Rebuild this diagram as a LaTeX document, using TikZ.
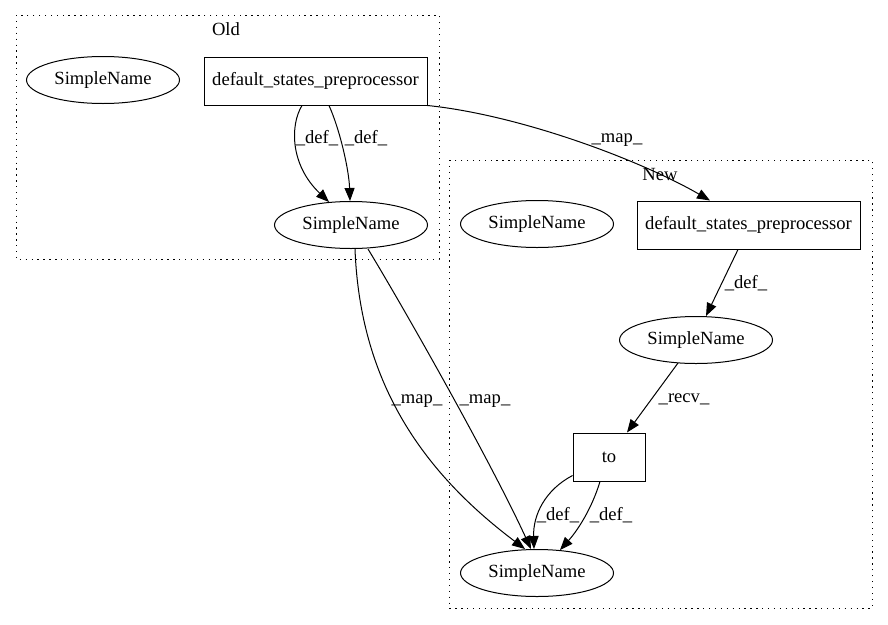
\documentclass[tikz,border=0pt]{standalone}
\usepackage{fontspec}
\setmainfont{Liberation Serif}
\usetikzlibrary{arrows.meta,calc,shapes.geometric}
\begin{document}
\begin{tikzpicture}[x=1pt,y=-1pt,
  font=\fontsize{18.6pt}{21pt}\selectfont,
  cluster/.style={draw,line width=1pt,dash pattern=on 1.3pt off 4.6pt},
  ell/.style={draw,line width=1pt,ellipse,minimum width=153pt,minimum height=47pt,inner sep=0pt},
  box/.style={draw,line width=1pt,rectangle,minimum height=48pt,inner sep=0pt},
  edge/.style={draw,line width=1pt,-{Triangle[length=13pt,width=10pt]}},
  lbl/.style={inner sep=0pt}]
\useasboundingbox (0,0) rectangle (888,624);
% clusters
\draw[cluster] (16,15) rectangle (439,259);
\draw[cluster] (449,160) rectangle (872,608);
\node[lbl] (oldlbl) at (226,29) {Old};
% nodes Old
\node[ell] (osn1) at (103,80) {SimpleName};
\node[box,minimum width=223pt] (od) at (315.5,81) {default\_states\_preprocessor};
\node[ell] (osn) at (351,225) {SimpleName};
% nodes New
\node[ell] (nsn1) at (537,224) {SimpleName};
\node[box,minimum width=223pt] (nd) at (748.5,225) {default\_states\_preprocessor};
\node[ell] (msn) at (696,340) {SimpleName};
\node[box,minimum width=72pt] (to) at (609,457) {to};
\node[ell] (bsn) at (537,573) {SimpleName};
% edges
\draw[edge] ([xshift=-13.5pt]od.south) .. controls (290,125) and (290,165) .. ([xshift=-22pt,yshift=-1pt]osn.north);
\draw[edge] ([xshift=13.5pt]od.south) .. controls (340,130) and (349,170) .. ([xshift=-1pt]osn.north);
\draw[edge] (od.south east) .. controls (520,115) and (640,160) .. ([xshift=-38.5pt]nd.north);
\draw[edge] ([xshift=4pt]osn.south) .. controls (360,380) and (420,470) .. ([xshift=-12pt]bsn.north);
\draw[edge] ([xshift=17pt]osn.south) .. controls (405,310) and (490,460) .. ([xshift=-6pt]bsn.north);
\draw[edge] ([xshift=-10.5pt]nd.south) -- ([xshift=10pt]msn.north);
\draw[edge] ([xshift=-18pt,yshift=1pt]msn.south) -- ([xshift=18pt]to.north);
\draw[edge] ([yshift=6pt]to.south west) .. controls (545,490) and (533,515) .. ([xshift=-3pt]bsn.north);
\draw[edge] ([xshift=-9pt]to.south) .. controls (592,508) and (578,530) .. ([xshift=23pt,yshift=-1pt]bsn.north);
% cluster label New drawn over edge
\node[lbl] (newlbl) at (660,174) {New};
% edge labels
\node[lbl] (l1) at (317,138) {\_def\_};
\node[lbl] (l2) at (366,138) {\_def\_};
\node[lbl] (l3) at (617,140) {\_map\_};
\node[lbl] (l4) at (417,401) {\_map\_};
\node[lbl] (l5) at (485,401) {\_map\_};
\node[lbl] (l6) at (746,283) {\_def\_};
\node[lbl] (l7) at (684,399) {\_recv\_};
\node[lbl] (l8) at (558,515) {\_def\_};
\node[lbl] (l9) at (611,515) {\_def\_};
\end{tikzpicture}
\end{document}
